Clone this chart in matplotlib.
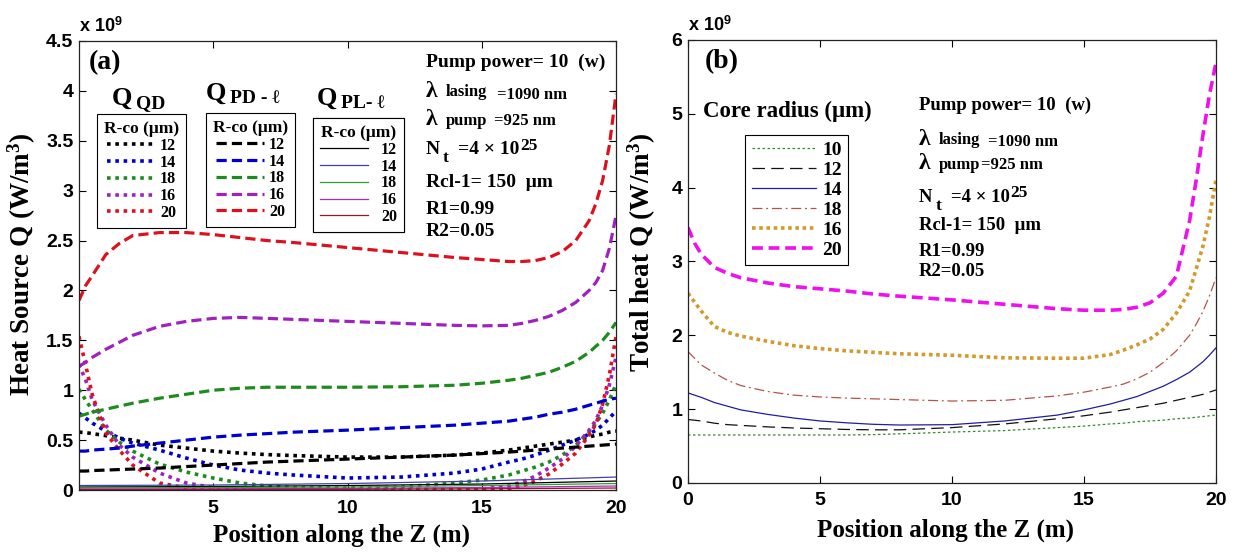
import matplotlib
matplotlib.use('Agg')
import matplotlib.pyplot as plt
from matplotlib.ticker import FuncFormatter

# position along the fibre (m), shared by all curves
z = [0, 0.25, 0.5, 1, 1.5, 2, 3, 4, 5, 6, 7, 8, 10, 12, 14, 15, 16, 16.5, 17, 17.5, 18, 18.5, 19, 19.25, 19.5, 19.75, 20]

radii = ['12', '14', '18', '16', '20']

# panel (a), values in 1e9 W/m^3
qd = {
	'12': [0.58, 0.575, 0.565, 0.545, 0.52, 0.5, 0.45, 0.42, 0.39, 0.37, 0.355, 0.345, 0.33, 0.33, 0.35, 0.37, 0.4, 0.42, 0.44, 0.46, 0.48, 0.5, 0.53, 0.55, 0.56, 0.58, 0.59],
	'14': [0.77, 0.72, 0.67, 0.59, 0.52, 0.47, 0.4, 0.32, 0.25, 0.2, 0.17, 0.15, 0.12, 0.13, 0.17, 0.21, 0.28, 0.31, 0.35, 0.4, 0.45, 0.5, 0.56, 0.6, 0.65, 0.72, 0.79],
	'18': [1.01, 0.9, 0.8, 0.6, 0.48, 0.39, 0.26, 0.18, 0.12, 0.07, 0.04, 0.025, 0.02, 0.03, 0.07, 0.1, 0.15, 0.19, 0.23, 0.28, 0.35, 0.45, 0.58, 0.67, 0.77, 0.9, 1.06],
	'16': [1.26, 1.1, 0.9, 0.65, 0.45, 0.33, 0.17, 0.07, 0.025, 0.01, 0.005, 0.005, 0.005, 0.005, 0.008, 0.01, 0.04, 0.08, 0.14, 0.22, 0.31, 0.44, 0.6, 0.7, 0.85, 1.05, 1.33],
	'20': [1.54, 1.25, 0.95, 0.57, 0.4, 0.25, 0.07, 0.02, 0.005, 0.003, 0.002, 0.002, 0.002, 0.002, 0.002, 0.003, 0.01, 0.04, 0.09, 0.16, 0.26, 0.37, 0.55, 0.66, 0.86, 1.15, 1.54],
}
pd = {
	'12': [0.19, 0.19, 0.195, 0.2, 0.205, 0.21, 0.22, 0.235, 0.25, 0.265, 0.28, 0.29, 0.31, 0.33, 0.35, 0.365, 0.38, 0.39, 0.4, 0.41, 0.42, 0.43, 0.44, 0.445, 0.45, 0.455, 0.46],
	'14': [0.39, 0.39, 0.4, 0.41, 0.42, 0.44, 0.47, 0.5, 0.53, 0.55, 0.565, 0.58, 0.6, 0.625, 0.65, 0.67, 0.69, 0.71, 0.73, 0.76, 0.78, 0.81, 0.85, 0.87, 0.89, 0.91, 0.92],
	'18': [0.74, 0.76, 0.78, 0.81, 0.84, 0.87, 0.92, 0.96, 1.0, 1.02, 1.03, 1.03, 1.03, 1.035, 1.05, 1.07, 1.1, 1.12, 1.15, 1.18, 1.23, 1.29, 1.38, 1.44, 1.5, 1.58, 1.68],
	'16': [1.24, 1.28, 1.33, 1.41, 1.48, 1.55, 1.64, 1.69, 1.72, 1.73, 1.72, 1.71, 1.69, 1.67, 1.65, 1.645, 1.65, 1.67, 1.7, 1.74, 1.8, 1.88, 2.0, 2.08, 2.2, 2.42, 2.75],
	'20': [1.9, 2.05, 2.15, 2.36, 2.47, 2.55, 2.58, 2.58, 2.56, 2.53, 2.5, 2.48, 2.43, 2.38, 2.33, 2.31, 2.29, 2.29, 2.3, 2.33, 2.39, 2.5, 2.7, 2.87, 3.1, 3.45, 3.97],
}
z_pl = [0, 5, 10, 15, 20]
pl = {
	'12': [0.03, 0.035, 0.045, 0.06, 0.09],
	'14': [0.045, 0.05, 0.065, 0.09, 0.13],
	'18': [0.02, 0.025, 0.03, 0.045, 0.065],
	'16': [0.01, 0.012, 0.016, 0.025, 0.04],
	'20': [0.004, 0.005, 0.007, 0.012, 0.02],
}

# panel (b), total heat for each core radius
core = ['10', '12', '14', '18', '16', '20']
total = {
	'10': [0.65, 0.65, 0.65, 0.65, 0.65, 0.65, 0.65, 0.65, 0.65, 0.65, 0.655, 0.665, 0.69, 0.71, 0.75, 0.77, 0.8, 0.81, 0.83, 0.84, 0.85, 0.87, 0.88, 0.89, 0.9, 0.91, 0.92],
	'12': [0.86, 0.85, 0.84, 0.81, 0.79, 0.78, 0.76, 0.745, 0.735, 0.725, 0.72, 0.72, 0.75, 0.8, 0.87, 0.91, 0.96, 0.99, 1.02, 1.05, 1.08, 1.12, 1.16, 1.18, 1.2, 1.23, 1.26],
	'14': [1.22, 1.19, 1.16, 1.09, 1.04, 0.99, 0.93, 0.88, 0.84, 0.815, 0.795, 0.785, 0.79, 0.84, 0.92, 0.99, 1.07, 1.12, 1.17, 1.24, 1.31, 1.4, 1.5, 1.57, 1.64, 1.73, 1.83],
	'18': [1.78, 1.69, 1.6, 1.49, 1.39, 1.32, 1.24, 1.19, 1.165, 1.15, 1.14, 1.13, 1.11, 1.12, 1.18, 1.23, 1.3, 1.34, 1.41, 1.5, 1.63, 1.79, 2.0, 2.15, 2.32, 2.53, 2.78],
	'16': [2.57, 2.45, 2.33, 2.12, 2.04, 1.99, 1.92, 1.86, 1.82, 1.79, 1.77, 1.75, 1.73, 1.695, 1.69, 1.69, 1.74, 1.8, 1.87, 1.95, 2.08, 2.3, 2.6, 2.9, 3.2, 3.6, 4.1],
	'20': [3.46, 3.25, 3.1, 2.92, 2.84, 2.78, 2.71, 2.66, 2.63, 2.6, 2.56, 2.53, 2.48, 2.42, 2.36, 2.34, 2.34, 2.35, 2.38, 2.44, 2.57, 2.8, 3.55, 4.1, 4.7, 5.25, 5.69],
}

col_a = {'12': '#000000', '14': '#0000cd', '18': '#1e8b1e', '16': '#a020c0', '20': '#dd1020'}
col_pl = {'12': '#000000', '14': '#4040b0', '18': '#30a030', '16': '#a030c0', '20': '#a01030'}
style_b = {
	'10': dict(color='#2e8b2e', ls=(0, (2, 2)), lw=0.9),
	'12': dict(color='#111111', ls=(0, (10, 5)), lw=0.9),
	'14': dict(color='#1f1f9f', ls='-', lw=0.9),
	'18': dict(color='#b5524a', ls=(0, (8, 3, 1.5, 3)), lw=0.9),
	'16': dict(color='#d19a2a', ls=(0, (1, 1)), lw=2.6),
	'20': dict(color='#ee10ee', ls=(0, (3, 1.6)), lw=2.6),
}

plt.rcParams['font.family'] = ['Liberation Sans', 'DejaVu Sans']
plt.rcParams['font.weight'] = 'bold'
plt.rcParams['mathtext.fontset'] = 'custom'
plt.rcParams['mathtext.rm'] = 'Liberation Serif:bold'
plt.rcParams['mathtext.it'] = 'Liberation Serif:bold'
plt.rcParams['mathtext.bf'] = 'Liberation Serif:bold'
plt.rcParams['mathtext.sf'] = 'Liberation Sans:bold'

SERIF = ['Liberation Serif', 'DejaVu Serif']


def put(ax, x, y, s, size, dx=0, dy=0):
	# text in Times-like bold, offset given in points
	ax.annotate(s, xy=(x, y), xytext=(dx, dy), textcoords='offset points', fontsize=size,
				va='center', ha='left', family=SERIF, weight='bold')


def style_axes(ax, ymax, ystep, xticks, xpad):
	ax.set_xlim(0, 20)
	ax.set_ylim(0, ymax)
	ax.set_xticks(xticks)
	ax.set_yticks([i * ystep for i in range(int(round(ymax / ystep)) + 1)])
	ax.yaxis.set_major_formatter(FuncFormatter(lambda v, p: '%g' % v))
	ax.tick_params(direction='in', top=True, right=True, length=5, width=0.8, labelsize=14)
	ax.tick_params(axis='x', pad=xpad)
	ax.tick_params(axis='y', pad=4)
	for s in ax.spines.values():
		s.set_linewidth(0.9)
		s.set_color('#222222')
	ax.text(0.0, 1.012, r'x 10$^{\mathsf{9}}$', transform=ax.transAxes, fontsize=13, va='bottom', ha='left')


def params_text(ax, x, ys, size, off):
	# block with the pump parameters, off = offsets (pt) of the right parts
	put(ax, x, ys[0], 'Pump power= 10  (w)', size)
	put(ax, x, ys[1], 'λ', 17)
	put(ax, x, ys[1], 'lasing', 12, 14.4, 0)
	put(ax, x, ys[1], '=1090 nm', 12, off[0], -2)
	put(ax, x, ys[2], 'λ', 17)
	put(ax, x, ys[2], 'pump', 12, 14.4, -1)
	put(ax, x, ys[2], '=925 nm', 12, off[1], -1)
	put(ax, x, ys[3], 'N', size)
	put(ax, x, ys[3], 't', 12.5, 12, -6)
	put(ax, x, ys[3], '=4 × 10', size, 23, 0)
	put(ax, x, ys[3], '25', 12.5, off[2], 3)
	put(ax, x, ys[4], 'Rcl-1= 150  μm', size)
	put(ax, x, ys[5], 'R1=0.99', size)
	put(ax, x, ys[6], 'R2=0.05', size)


def panel_a(ax):
	qd_lines, pd_lines, pl_lines = [], [], []
	for r in radii:
		qd_lines += ax.plot(z, qd[r], ls=(0, (1, 1.3)), color=col_a[r], lw=2.6)
	for r in radii:
		pd_lines += ax.plot(z, pd[r], ls=(0, (3.2, 1.6)), color=col_a[r], lw=2.3)
	for r in radii:
		pl_lines += ax.plot(z_pl, pl[r], '-', color=col_pl[r], lw=0.9)
	style_axes(ax, 4.5, 0.5, [5, 10, 15, 20], 7)
	ax.set_xlabel('Position along the Z (m)', fontsize=18, family=SERIF, weight='bold')
	ax.set_ylabel(r'Heat Source Q (W/m$^3$)', fontsize=19.5, family=SERIF, weight='bold')
	ax.xaxis.set_label_coords(0.488, -0.075)
	ax.yaxis.set_label_coords(-0.076, 0.503)
	ax.text(0.37, 4.28, '(a)', fontsize=20, va='center', family=SERIF, weight='bold')
	# three small legends with their headers
	heads = [('QD', 1.23, 3.93, qd_lines, 0.67, 3.77, 0.3),
			 ('PD - ℓ', 4.73, 3.98, pd_lines, 4.73, 3.78, 0.3),
			 ('PL- ℓ', 8.86, 3.93, pl_lines, 8.72, 3.73, 0.8)]
	for sub, xt, yt, lines, xl, yl, tpad in heads:
		put(ax, xt, yt, 'Q', 19)
		put(ax, xt, yt, sub, 14, 17, -4)
		leg = ax.legend(lines, radii, loc='upper left', bbox_to_anchor=(xl, yl),
						bbox_transform=ax.transData, borderaxespad=0, title='R-co (μm)',
						prop=dict(family=SERIF, weight='bold', size=11.5),
						title_fontproperties=dict(family=SERIF, weight='bold', size=12.5),
						handlelength=3.0, handletextpad=tpad, labelspacing=0.05, borderpad=0.45,
						fancybox=False, framealpha=1, edgecolor='black')
		leg.get_frame().set_linewidth(0.8)
		ax.add_artist(leg)
	params_text(ax, 12.92, [4.29, 3.99, 3.71, 3.41, 3.08, 2.81, 2.59], 14, [51, 49, 68])


def panel_b(ax):
	lines = []
	for r in core:
		lines += ax.plot(z, total[r], **style_b[r])
	style_axes(ax, 6, 1, [0, 5, 10, 15, 20], 6.5)
	ax.set_xlabel('Position along the Z (m)', fontsize=18, family=SERIF, weight='bold')
	ax.set_ylabel(r'Total heat Q (W/m$^3$)', fontsize=19.5, family=SERIF, weight='bold')
	ax.xaxis.set_label_coords(0.487, -0.08)
	ax.yaxis.set_label_coords(-0.056, 0.52)
	ax.text(0.64, 5.71, '(b)', fontsize=20, va='center', family=SERIF, weight='bold')
	ax.text(0.57, 5.03, 'Core radius (μm)', fontsize=16.5, va='center', family=SERIF, weight='bold')
	leg = ax.legend(lines, core, loc='upper left', bbox_to_anchor=(2.17, 4.72),
					bbox_transform=ax.transData, borderaxespad=0,
					prop=dict(family=SERIF, weight='bold', size=14),
					handlelength=3.3, handletextpad=0.3, labelspacing=0.12, borderpad=0.35,
					fancybox=False, framealpha=1, edgecolor='black')
	leg.get_frame().set_linewidth(0.8)
	params_text(ax, 8.75, [5.12, 4.65, 4.33, 3.87, 3.49, 3.13, 2.86], 13.5, [49.7, 45, 66])


def main():
	fig = plt.figure(figsize=(12.36, 5.54), dpi=100)
	ax1 = fig.add_axes([0.0639, 0.1155, 0.4345, 0.8105])
	ax2 = fig.add_axes([0.5566, 0.1282, 0.4272, 0.7996])
	panel_a(ax1)
	panel_b(ax2)
	fig.savefig('out.png', dpi=100)


if __name__ == "__main__":
	main()
